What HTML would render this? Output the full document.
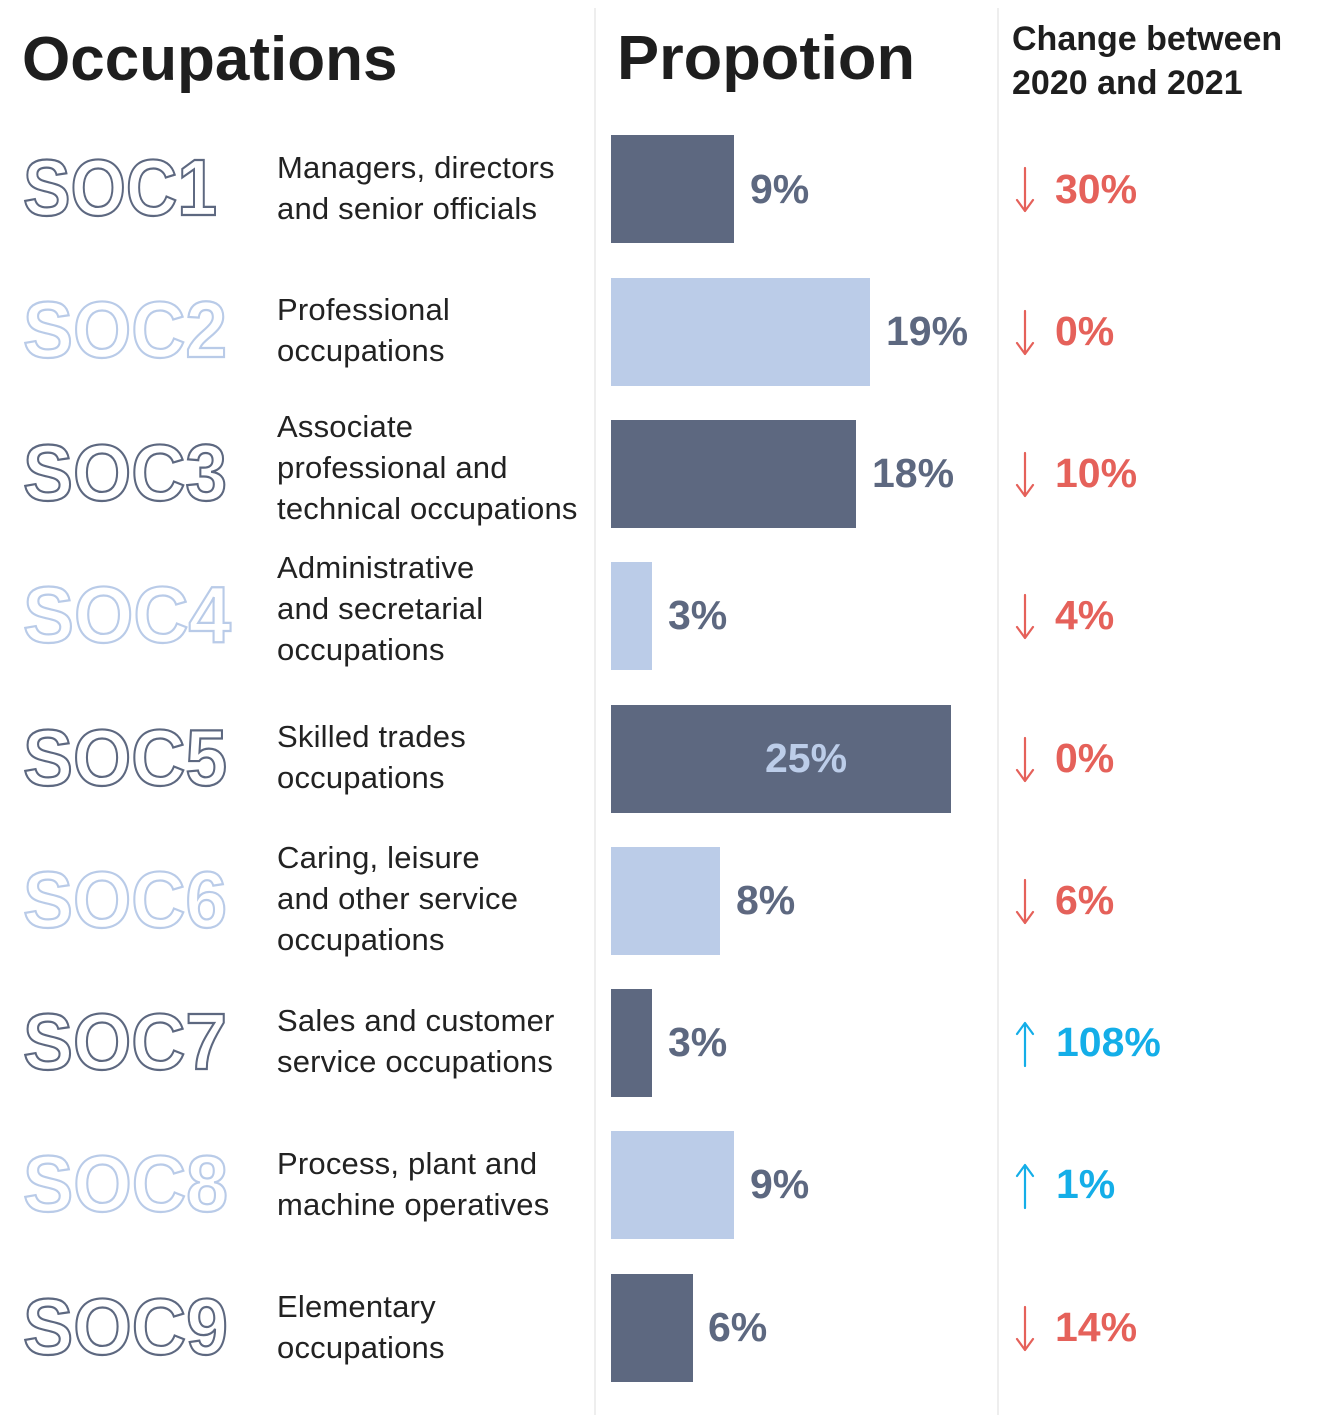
<!DOCTYPE html>
<html>
<head>
<meta charset="utf-8">
<style>
html,body{margin:0;padding:0;background:#fff;}
svg{display:block;}
.hd{font-family:"Liberation Sans",sans-serif;font-weight:bold;fill:#1e1e1e;}
.soc{font-family:"Liberation Sans",sans-serif;font-weight:bold;font-size:80px;fill:#fff;stroke-width:2.2;}
.d{stroke:#5d6880;}
.l{stroke:#b9cbe8;}
.desc{font-family:"Liberation Sans",sans-serif;font-size:31px;fill:#222;letter-spacing:0.2px;}
.val{font-family:"Liberation Sans",sans-serif;font-weight:bold;font-size:41px;fill:#5d6880;}
.chg{font-family:"Liberation Sans",sans-serif;font-weight:bold;font-size:41px;}
.red{fill:#e5615a;}
.blue{fill:#14aee8;}
</style>
</head>
<body>
<svg width="1320" height="1415" viewBox="0 0 1320 1415" xmlns="http://www.w3.org/2000/svg">
<rect width="1320" height="1415" fill="#fff"/>
<!-- dividers -->
<rect x="594" y="8" width="2" height="1407" fill="#eeeeee"/>
<rect x="997" y="8" width="2" height="1407" fill="#eeeeee"/>

<!-- headers -->
<text class="hd" x="22" y="80" font-size="62">Occupations</text>
<text class="hd" x="617" y="79" font-size="62" textLength="298" lengthAdjust="spacingAndGlyphs">Propotion</text>
<text class="hd" x="1012" y="50" font-size="34">Change between</text>
<text class="hd" x="1012" y="94" font-size="34">2020 and 2021</text>

<!-- SOC labels -->
<text class="soc d" x="23" y="215" textLength="194" lengthAdjust="spacingAndGlyphs">SOC1</text>
<text class="soc l" x="23" y="357" textLength="204" lengthAdjust="spacingAndGlyphs">SOC2</text>
<text class="soc d" x="23" y="500" textLength="204" lengthAdjust="spacingAndGlyphs">SOC3</text>
<text class="soc l" x="23" y="642" textLength="208" lengthAdjust="spacingAndGlyphs">SOC4</text>
<text class="soc d" x="23" y="785" textLength="204" lengthAdjust="spacingAndGlyphs">SOC5</text>
<text class="soc l" x="23" y="927" textLength="204" lengthAdjust="spacingAndGlyphs">SOC6</text>
<text class="soc d" x="23" y="1069" textLength="204" lengthAdjust="spacingAndGlyphs">SOC7</text>
<text class="soc l" x="23" y="1211" textLength="205" lengthAdjust="spacingAndGlyphs">SOC8</text>
<text class="soc d" x="23" y="1354" textLength="205" lengthAdjust="spacingAndGlyphs">SOC9</text>

<!-- descriptions -->
<text class="desc" x="277" y="178">Managers, directors</text>
<text class="desc" x="277" y="219">and senior officials</text>

<text class="desc" x="277" y="320">Professional</text>
<text class="desc" x="277" y="361">occupations</text>

<text class="desc" x="277" y="437">Associate</text>
<text class="desc" x="277" y="478">professional and</text>
<text class="desc" x="277" y="519">technical occupations</text>

<text class="desc" x="277" y="578">Administrative</text>
<text class="desc" x="277" y="619">and secretarial</text>
<text class="desc" x="277" y="660">occupations</text>

<text class="desc" x="277" y="747">Skilled trades</text>
<text class="desc" x="277" y="788">occupations</text>

<text class="desc" x="277" y="868">Caring, leisure</text>
<text class="desc" x="277" y="909">and other service</text>
<text class="desc" x="277" y="950">occupations</text>

<text class="desc" x="277" y="1031">Sales and customer</text>
<text class="desc" x="277" y="1072">service occupations</text>

<text class="desc" x="277" y="1174">Process, plant and</text>
<text class="desc" x="277" y="1215">machine operatives</text>

<text class="desc" x="277" y="1317">Elementary</text>
<text class="desc" x="277" y="1358">occupations</text>

<!-- bars -->
<rect x="611" y="135" width="123" height="108" fill="#5d6880"/>
<rect x="611" y="278" width="259" height="108" fill="#bbcce8"/>
<rect x="611" y="420" width="245" height="108" fill="#5d6880"/>
<rect x="611" y="562" width="41" height="108" fill="#bbcce8"/>
<rect x="611" y="705" width="340" height="108" fill="#5d6880"/>
<rect x="611" y="847" width="109" height="108" fill="#bbcce8"/>
<rect x="611" y="989" width="41" height="108" fill="#5d6880"/>
<rect x="611" y="1131" width="123" height="108" fill="#bbcce8"/>
<rect x="611" y="1274" width="82" height="108" fill="#5d6880"/>

<!-- values -->
<text class="val" x="750" y="203">9%</text>
<text class="val" x="886" y="345">19%</text>
<text class="val" x="872" y="487">18%</text>
<text class="val" x="668" y="629">3%</text>
<text class="val" x="765" y="772" style="fill:#bccde9">25%</text>
<text class="val" x="736" y="914">8%</text>
<text class="val" x="668" y="1056">3%</text>
<text class="val" x="750" y="1198">9%</text>
<text class="val" x="708" y="1341">6%</text>

<!-- arrows -->
<g fill="none" stroke-width="2.2" stroke-linecap="round" stroke-linejoin="round">
  <g stroke="#e5615a">
    <path d="M1025 168 V211 M1017 200 L1025 211 L1033 200"/>
    <path d="M1025 311 V354 M1017 343 L1025 354 L1033 343"/>
    <path d="M1025 453 V496 M1017 485 L1025 496 L1033 485"/>
    <path d="M1025 595 V638 M1017 627 L1025 638 L1033 627"/>
    <path d="M1025 738 V781 M1017 770 L1025 781 L1033 770"/>
    <path d="M1025 880 V923 M1017 912 L1025 923 L1033 912"/>
    <path d="M1025 1307 V1350 M1017 1339 L1025 1350 L1033 1339"/>
  </g>
  <g stroke="#14aee8">
    <path d="M1025 1066 V1023 M1017 1034 L1025 1023 L1033 1034"/>
    <path d="M1025 1208 V1165 M1017 1176 L1025 1165 L1033 1176"/>
  </g>
</g>

<!-- change values -->
<text class="chg red" x="1055" y="203">30%</text>
<text class="chg red" x="1055" y="345">0%</text>
<text class="chg red" x="1055" y="487">10%</text>
<text class="chg red" x="1055" y="629">4%</text>
<text class="chg red" x="1055" y="772">0%</text>
<text class="chg red" x="1055" y="914">6%</text>
<text class="chg blue" x="1056" y="1056">108%</text>
<text class="chg blue" x="1056" y="1198">1%</text>
<text class="chg red" x="1055" y="1341">14%</text>
</svg>
</body>
</html>
